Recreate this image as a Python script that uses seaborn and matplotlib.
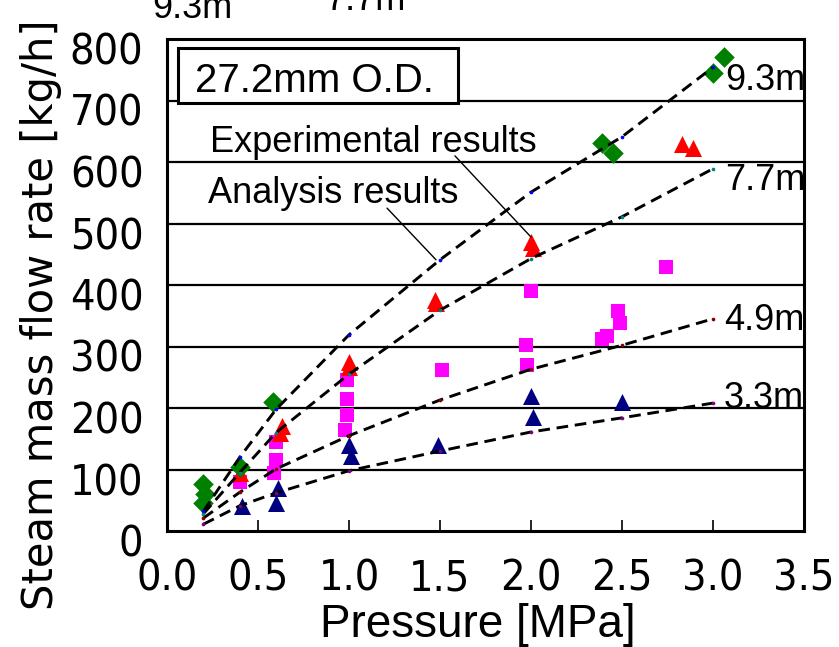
import matplotlib
matplotlib.use("Agg")
import matplotlib.pyplot as plt
import matplotlib.transforms as mtransforms
from matplotlib import font_manager
from matplotlib.font_manager import FontProperties
from matplotlib.patches import Rectangle
import seaborn as sns
import pandas as pd

# ---------------- data ----------------
exp_93_x = [0.20, 0.21, 0.20, 0.40, 0.58, 2.39, 2.45, 3.00, 3.06]
exp_93_y = [76, 60, 45, 104, 210, 631, 615, 745, 771]
exp_77_x = [0.40, 0.63, 0.62, 1.00, 1.00, 1.47, 1.48, 2.00, 2.01, 2.83, 2.89]
exp_77_y = [95, 170, 160, 275, 266, 376, 370, 470, 460, 630, 623]
exp_49_x = [0.40, 0.60, 0.60, 0.59, 0.99, 0.99, 0.99, 0.98, 1.51, 1.97, 1.98, 2.00, 2.39, 2.42, 2.48, 2.49, 2.74]
exp_49_y = [80, 145, 116, 94, 245, 215, 188, 165, 262, 302, 270, 390, 312, 317, 358, 339, 430]
exp_33_x = [0.41, 0.61, 0.60, 1.00, 1.01, 1.49, 2.00, 2.01, 2.50]
exp_33_y = [40, 70, 45, 140, 122, 140, 220, 185, 210]

ana_x = [0.2, 0.4, 0.6, 1.0, 1.5, 2.0, 2.5, 3.0]
ana_93 = [32, 120, 198, 319, 441, 551, 641, 754]
ana_77 = [28, 95, 160, 255, 359, 443, 511, 589]
ana_49 = [21, 63, 101, 155, 213, 263, 302, 345]
ana_33 = [11, 41, 62, 98, 130, 161, 184, 208]

lengths = ["9.3m", "7.7m", "4.9m", "3.3m"]
exp_colors = ["#008000", "#FF0000", "#FF00FF", "#000080"]
exp_markers = ["D", "^", "s", "^"]
exp_sizes = [110, 150, 110, 150]
ana_colors = ["#0000FF", "#008080", "#800000", "#800080"]

x_ticks = [0.0, 0.5, 1.0, 1.5, 2.0, 2.5, 3.0, 3.5]
y_ticks = [0, 100, 200, 300, 400, 500, 600, 700, 800]

# ---------------- fonts ----------------
sns.set_theme(style="white")
plt.rcParams["font.family"] = ["Liberation Sans", "DejaVu Sans"]
plt.rcParams["text.color"] = "black"


def find_narrow():
    fl = font_manager.fontManager.ttflist
    for f in fl:
        if f.name == "Liberation Sans Narrow" and f.style == "normal" and f.weight in (400, "normal", "regular"):
            return FontProperties(fname=f.fname), True
    cands = []
    for f in fl:
        st = f.stretch
        cond = (isinstance(st, str) and "condensed" in st) or (isinstance(st, (int, float)) and st < 500) \
            or "Condensed" in f.name or "Narrow" in f.name
        if cond and f.style == "normal" and f.weight in (400, "normal", "regular") and "Sans" in f.name \
                and "Mono" not in f.name and "CJK" not in f.name:
            cands.append(f)
    if cands:
        return FontProperties(fname=cands[0].fname), True
    return FontProperties(family="Liberation Sans"), False


tick_fp, is_narrow = find_narrow()

W, H = 839, 647
fig = plt.figure(figsize=(W / 100, H / 100), dpi=100)
fig.patch.set_facecolor("white")
tick_size = 31 if is_narrow else 28

L, R, T, B = 167, 804, 39, 531
ax = fig.add_axes([L / W, 1 - B / H, (R - L) / W, (B - T) / H])
ax.set_facecolor("white")

# gridlines
for yv in y_ticks[1:-1]:
    ax.axhline(yv, color="black", lw=1.6, zorder=1)

# experimental points
exp_sets = [(exp_93_x, exp_93_y), (exp_77_x, exp_77_y), (exp_49_x, exp_49_y), (exp_33_x, exp_33_y)]
order = [2, 1, 3, 0]
for i in order:
    xs, ys = exp_sets[i]
    df = pd.DataFrame({"p": xs, "m": ys})
    sns.scatterplot(data=df, x="p", y="m", ax=ax, color=exp_colors[i], marker=exp_markers[i],
                    s=exp_sizes[i], linewidth=0, zorder=3, legend=False)

# analysis lines
for vals, col in zip([ana_93, ana_77, ana_49, ana_33], ana_colors):
    df = pd.DataFrame({"p": ana_x, "m": vals})
    sns.lineplot(data=df, x="p", y="m", ax=ax, color="black", lw=2.1, zorder=4,
                 dashes=False, legend=False)
    ax.lines[-1].set_dashes((4.0, 2.3))
    sns.scatterplot(data=df, x="p", y="m", ax=ax, color=col, marker="o", s=7,
                    linewidth=0, zorder=5, legend=False)

ax.set_xlim(0, 3.5)
ax.set_ylim(0, 800)
ax.set_xticks(x_ticks)
ax.set_xticklabels([f"{v:.1f}" for v in x_ticks])
ax.set_yticks(y_ticks)
ax.set_yticklabels([str(v) for v in y_ticks])
ax.tick_params(axis="x", direction="in", length=8, width=1.2, color="black", pad=19,
               labelcolor="black", bottom=True)
ax.tick_params(axis="y", length=0, pad=17, labelcolor="black", left=True)
for lab in ax.get_xticklabels() + ax.get_yticklabels():
    lab.set_fontproperties(tick_fp)
    lab.set_fontsize(tick_size)
    lab.set_color("black")
off = mtransforms.ScaledTranslation(0, -0.09, fig.dpi_scale_trans)
for lab in ax.get_yticklabels():
    lab.set_transform(lab.get_transform() + off)
for sp in ax.spines.values():
    sp.set_color("black")
    sp.set_linewidth(2.2)
    sp.set_visible(True)
ax.set_xlabel("")
ax.set_ylabel("")

# axis titles
fig.text(478 / W, 1 - 637 / H, "Pressure [MPa]", ha="center", va="baseline", fontsize=33,
         family=["Liberation Sans", "DejaVu Sans"], color="black")
fig.text(53 / W, 1 - 315 / H, "Steam mass flow rate [kg/h]", rotation=90, rotation_mode="anchor",
         ha="center", va="baseline", fontsize=30, family=["DejaVu Sans"], color="black")

# box label
box = Rectangle((178 / W, 1 - 103 / H), (458 - 178) / W, (103 - 48) / H, transform=fig.transFigure,
                facecolor="white", edgecolor="black", lw=2.2, zorder=10)
fig.add_artist(box)
fig.text(195 / W, 1 - 92 / H, "27.2mm O.D.", ha="left", va="baseline", fontsize=29, zorder=11,
         color="black")

# annotations
ax.text(0.236, 616, "Experimental results", fontsize=26, ha="left", va="baseline", zorder=6, color="black")
ax.text(0.225, 533, "Analysis results", fontsize=26, ha="left", va="baseline", zorder=6, color="black")
ax.annotate("", xy=(2.0, 478), xytext=(1.582, 610),
            arrowprops=dict(arrowstyle="-", color="black", lw=1.0, shrinkA=0, shrinkB=0), zorder=6)
ax.annotate("", xy=(1.478, 441), xytext=(1.209, 525),
            arrowprops=dict(arrowstyle="-", color="black", lw=1.0, shrinkA=0, shrinkB=0), zorder=6)

# length labels
lab_pos = [(3.066, 717), (3.066, 554), (3.06, 327), (3.06, 200)]
for (lx, ly), t in zip(lab_pos, lengths):
    ax.text(lx, ly, t, fontsize=26, ha="left", va="baseline", zorder=6, color="black")

# labels cut off at the top edge, as in the original
fig.text(152 / W, 1 - 18 / H, lengths[0], fontsize=26, ha="left", va="baseline", color="black")
fig.text(325 / W, 1 - 10 / H, lengths[1], fontsize=26, ha="left", va="baseline", color="black")

fig.savefig("out.png", dpi=100, facecolor="white")
